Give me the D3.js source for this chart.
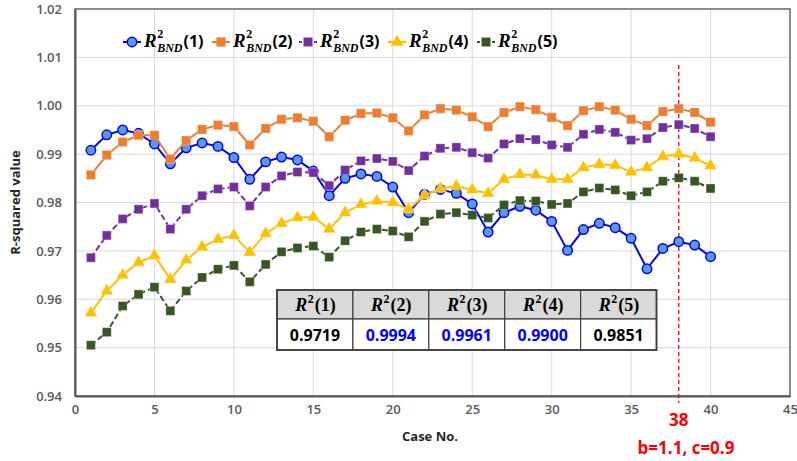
<!DOCTYPE html>
<html>
<head>
<meta charset="utf-8">
<script src="https://cdn.jsdelivr.net/npm/d3@7"></script>
<style>
  body { margin: 0; background: #fff; }
  svg { display: block; }
</style>
</head>
<body>
<script>
// data
const cases = d3.range(1, 41);
const r2_1 = [0.9908, 0.9940, 0.9950, 0.9943, 0.9921, 0.9880, 0.9913, 0.9923, 0.9916, 0.9893,
              0.9848, 0.9884, 0.9894, 0.9888, 0.9865, 0.9814, 0.9850, 0.9859, 0.9854, 0.9832,
              0.9779, 0.9817, 0.9827, 0.9819, 0.9797, 0.9739, 0.9779, 0.9792, 0.9784, 0.9761,
              0.9701, 0.9744, 0.9757, 0.9748, 0.9726, 0.9663, 0.9705, 0.9719, 0.9712, 0.9688];
const r2_2 = [0.9857, 0.9898, 0.9925, 0.9939, 0.9939, 0.9890, 0.9928, 0.9951, 0.9960, 0.9957,
              0.9919, 0.9953, 0.9972, 0.9975, 0.9968, 0.9936, 0.9970, 0.9984, 0.9985, 0.9975,
              0.9948, 0.9981, 0.9994, 0.9991, 0.9977, 0.9957, 0.9986, 0.9998, 0.9992, 0.9976,
              0.9959, 0.9990, 0.9998, 0.9991, 0.9972, 0.9959, 0.9988, 0.9994, 0.9986, 0.9966];
const r2_3 = [0.9686, 0.9732, 0.9766, 0.9786, 0.9798, 0.9745, 0.9786, 0.9814, 0.9828, 0.9832,
              0.9793, 0.9832, 0.9855, 0.9863, 0.9862, 0.9835, 0.9867, 0.9886, 0.9891, 0.9885,
              0.9866, 0.9896, 0.9912, 0.9914, 0.9903, 0.9892, 0.9921, 0.9932, 0.9930, 0.9919,
              0.9914, 0.9941, 0.9951, 0.9945, 0.9929, 0.9932, 0.9955, 0.9961, 0.9953, 0.9936];
const r2_4 = [0.9572, 0.9617, 0.9650, 0.9676, 0.9690, 0.9641, 0.9681, 0.9708, 0.9724, 0.9732,
              0.9697, 0.9736, 0.9757, 0.9769, 0.9770, 0.9745, 0.9779, 0.9796, 0.9803, 0.9800,
              0.9786, 0.9815, 0.9829, 0.9834, 0.9826, 0.9819, 0.9848, 0.9858, 0.9857, 0.9848,
              0.9848, 0.9872, 0.9879, 0.9877, 0.9863, 0.9872, 0.9895, 0.9900, 0.9892, 0.9876];
const r2_5 = [0.9505, 0.9532, 0.9586, 0.9610, 0.9625, 0.9576, 0.9617, 0.9645, 0.9662, 0.9670,
              0.9636, 0.9672, 0.9698, 0.9706, 0.9710, 0.9687, 0.9721, 0.9739, 0.9745, 0.9741,
              0.9729, 0.9761, 0.9776, 0.9779, 0.9774, 0.9768, 0.9795, 0.9804, 0.9803, 0.9796,
              0.9798, 0.9822, 0.9830, 0.9826, 0.9814, 0.9822, 0.9844, 0.9851, 0.9844, 0.9829];

const seriesNames = ['(1)', '(2)', '(3)', '(4)', '(5)'];
const tableValues = ['0.9719', '0.9994', '0.9961', '0.9900', '0.9851'];
const tableBlue = [false, true, true, true, false];
const xTicks = [0, 5, 10, 15, 20, 25, 30, 35, 40, 45];
const yTicks = [0.94, 0.95, 0.96, 0.97, 0.98, 0.99, 1.00, 1.01, 1.02];
const markCase = 38;

const width = 797, height = 461;
const plotL = 75, plotR = 790, plotT = 9, plotB = 396;
const sansFont = '"Open Sans", "Noto Sans", sans-serif';
const mathFont = '"Liberation Serif", "DejaVu Serif", serif';

const svg = d3.select('body').append('svg')
    .attr('width', width)
    .attr('height', height);

const x = d3.scaleLinear().domain([0, 45]).range([plotL, plotR]);
const y = d3.scaleLinear().domain([0.94, 1.02]).range([plotB, plotT]);

// gridlines
svg.append('g')
    .selectAll('line')
    .data(xTicks.slice(1, -1))
    .enter().append('line')
    .attr('x1', d => x(d)).attr('x2', d => x(d))
    .attr('y1', plotT).attr('y2', plotB)
    .attr('stroke', '#d9d9d9').attr('stroke-width', 1);

svg.append('g')
    .selectAll('line')
    .data(yTicks.slice(1, -1))
    .enter().append('line')
    .attr('x1', plotL).attr('x2', plotR)
    .attr('y1', d => y(d)).attr('y2', d => y(d))
    .attr('stroke', '#d9d9d9').attr('stroke-width', 1);

// frame
svg.append('rect')
    .attr('x', plotL).attr('y', plotT)
    .attr('width', plotR - plotL).attr('height', plotB - plotT)
    .attr('fill', 'none')
    .attr('stroke', '#404040')
    .attr('stroke-width', 1.2);

// axes
const xAxis = svg.append('g')
    .attr('transform', `translate(0,${plotB})`)
    .call(d3.axisBottom(x).tickValues(xTicks).tickSize(0).tickPadding(9));
const yAxis = svg.append('g')
    .attr('transform', `translate(${plotL},0)`)
    .call(d3.axisLeft(y).tickValues(yTicks).tickFormat(d3.format('.2f')).tickSize(0).tickPadding(13));

[xAxis, yAxis].forEach(a => {
    a.select('.domain').attr('stroke', '#595959').attr('stroke-width', 2);
    a.selectAll('text')
        .attr('fill', '#595959')
        .style('font-family', sansFont)
        .style('font-size', '13px')
        .style('font-weight', '600');
});

// axis titles
svg.append('text')
    .attr('x', 430).attr('y', 441)
    .attr('text-anchor', 'middle')
    .style('font-family', sansFont)
    .style('font-size', '13px').style('font-weight', 'bold')
    .attr('fill', '#262626')
    .text('Case No.');

svg.append('text')
    .attr('transform', `translate(20,${(plotT + plotB) / 2}) rotate(-90)`)
    .attr('text-anchor', 'middle')
    .style('font-family', sansFont)
    .style('font-size', '13px').style('font-weight', 'bold')
    .attr('fill', '#262626')
    .text('R-squared value');

// red marker line at case 38
svg.append('line')
    .attr('x1', x(markCase)).attr('x2', x(markCase))
    .attr('y1', 65).attr('y2', 403)
    .attr('stroke', '#ff0000').attr('stroke-width', 1.3)
    .attr('stroke-dasharray', '4,3');

svg.append('text')
    .attr('x', x(markCase)).attr('y', 426)
    .attr('text-anchor', 'middle')
    .style('font-family', sansFont)
    .style('font-size', '17px').style('font-weight', 'bold')
    .attr('fill', '#ff0000')
    .text(markCase);

svg.append('text')
    .attr('x', 686).attr('y', 454)
    .attr('text-anchor', 'middle')
    .style('font-family', sansFont)
    .style('font-size', '17px').style('font-weight', 'bold')
    .attr('fill', '#ff0000')
    .text('b=1.1, c=0.9');

// series
const series = [
    { values: r2_1, color: '#0000ff', fill: '#5b9bd5', dash: null, symbol: d3.symbolCircle, size: 70 },
    { values: r2_2, color: '#ed7d31', fill: '#ed7d31', dash: null, symbol: d3.symbolSquare, size: 85 },
    { values: r2_3, color: '#7030a0', fill: '#7030a0', dash: '6,3', symbol: d3.symbolSquare, size: 80 },
    { values: r2_4, color: '#ffc000', fill: '#ffc000', dash: null, symbol: d3.symbolTriangle, size: 70 },
    { values: r2_5, color: '#375623', fill: '#375623', dash: '6,3', symbol: d3.symbolSquare, size: 80 }
];

const line = d3.line()
    .x((d, i) => x(cases[i]))
    .y(d => y(d));

series.forEach(s => {
    const g = svg.append('g');
    g.append('path')
        .datum(s.values)
        .attr('d', line)
        .attr('fill', 'none')
        .attr('stroke', s.color)
        .attr('stroke-width', 2)
        .attr('stroke-dasharray', s.dash);
    g.selectAll('path.pt')
        .data(s.values)
        .enter().append('path')
        .attr('class', 'pt')
        .attr('transform', (d, i) => `translate(${x(cases[i])},${y(d)})`)
        .attr('d', d3.symbol().type(s.symbol).size(s.size))
        .attr('fill', s.fill)
        .attr('stroke', s.symbol === d3.symbolCircle ? s.color : '#ffffff')
        .attr('stroke-opacity', s.symbol === d3.symbolCircle ? 1 : 0.4)
        .attr('stroke-width', s.symbol === d3.symbolCircle ? 1.5 : 0.8);
});

// math-like label: R (italic) with stacked superscript / subscript
function mathLabel(g, x0, y0, sub, tail, opts) {
    const t = g.append('text')
        .attr('x', x0).attr('y', y0)
        .style('font-family', mathFont)
        .style('font-style', 'italic').style('font-weight', 'bold')
        .style('font-size', opts.rSize + 'px')
        .attr('fill', '#000')
        .text('R');
    const rw = t.node().getComputedTextLength();
    const sx = x0 + rw + 0.5;
    const sup = g.append('text')
        .attr('x', sx).attr('y', y0 - opts.rSize * 0.45)
        .style('font-family', mathFont)
        .style('font-weight', 'bold')
        .style('font-size', opts.sSize + 'px')
        .text('2');
    let w = sup.node().getComputedTextLength();
    if (sub) {
        const sb = g.append('text')
            .attr('x', sx).attr('y', y0 + opts.sSize * 0.4)
            .style('font-family', mathFont)
            .style('font-style', 'italic').style('font-weight', 'bold')
            .style('font-size', opts.sSize + 'px')
            .text(sub);
        w = Math.max(w, sb.node().getComputedTextLength());
    }
    g.append('text')
        .attr('x', sx + w + 1).attr('y', y0)
        .style('font-family', opts.tailFont)
        .style('font-weight', 'bold')
        .style('font-size', opts.tSize + 'px')
        .text(tail);
}

// legend
const legendX = [123, 212, 299, 388, 477];
const legendY = 42;
const legend = svg.append('g');
series.forEach((s, i) => {
    const lx = legendX[i];
    legend.append('line')
        .attr('x1', lx).attr('x2', lx + 18)
        .attr('y1', legendY).attr('y2', legendY)
        .attr('stroke', s.color).attr('stroke-width', 2)
        .attr('stroke-dasharray', s.dash ? '3,2' : null);
    legend.append('path')
        .attr('transform', `translate(${lx + 9},${legendY})`)
        .attr('d', d3.symbol().type(s.symbol).size(s.size))
        .attr('fill', s.fill)
        .attr('stroke', s.symbol === d3.symbolCircle ? s.color : 'none')
        .attr('stroke-width', 1.5);
    mathLabel(legend, lx + 21, legendY + 5, 'BND', seriesNames[i],
        { rSize: 19, sSize: 12, tSize: 16, tailFont: sansFont });
});

// summary table
const tabX = 277, tabY = 290, colW = 75.9, headH = 29, rowH = 31;
const table = svg.append('g');
table.selectAll('rect.head')
    .data(seriesNames)
    .enter().append('rect')
    .attr('class', 'head')
    .attr('x', (d, i) => tabX + i * colW).attr('y', tabY)
    .attr('width', colW).attr('height', headH)
    .attr('fill', '#d9d9d9').attr('stroke', '#404040').attr('stroke-width', 1.2);
table.selectAll('rect.val')
    .data(tableValues)
    .enter().append('rect')
    .attr('class', 'val')
    .attr('x', (d, i) => tabX + i * colW).attr('y', tabY + headH)
    .attr('width', colW).attr('height', rowH)
    .attr('fill', '#ffffff').attr('stroke', '#404040').attr('stroke-width', 1.2);
table.append('rect')
    .attr('x', tabX).attr('y', tabY)
    .attr('width', colW * 5).attr('height', headH + rowH)
    .attr('fill', 'none').attr('stroke', '#404040').attr('stroke-width', 1.8);

seriesNames.forEach((name, i) => {
    const hg = table.append('g');
    mathLabel(hg, 0, tabY + 21, null, name,
        { rSize: 18, sSize: 12, tSize: 18, tailFont: mathFont });
    const bb = hg.node().getBBox();
    hg.attr('transform', `translate(${tabX + i * colW + colW / 2 - bb.width / 2 - bb.x},0)`);
});

table.selectAll('text.val')
    .data(tableValues)
    .enter().append('text')
    .attr('class', 'val')
    .attr('x', (d, i) => tabX + i * colW + colW / 2)
    .attr('y', tabY + headH + 22)
    .attr('text-anchor', 'middle')
    .style('font-family', sansFont)
    .style('font-size', '16px').style('font-weight', 'bold')
    .attr('fill', (d, i) => tableBlue[i] ? '#0000ff' : '#000000')
    .text(d => d);
</script>
</body>
</html>
